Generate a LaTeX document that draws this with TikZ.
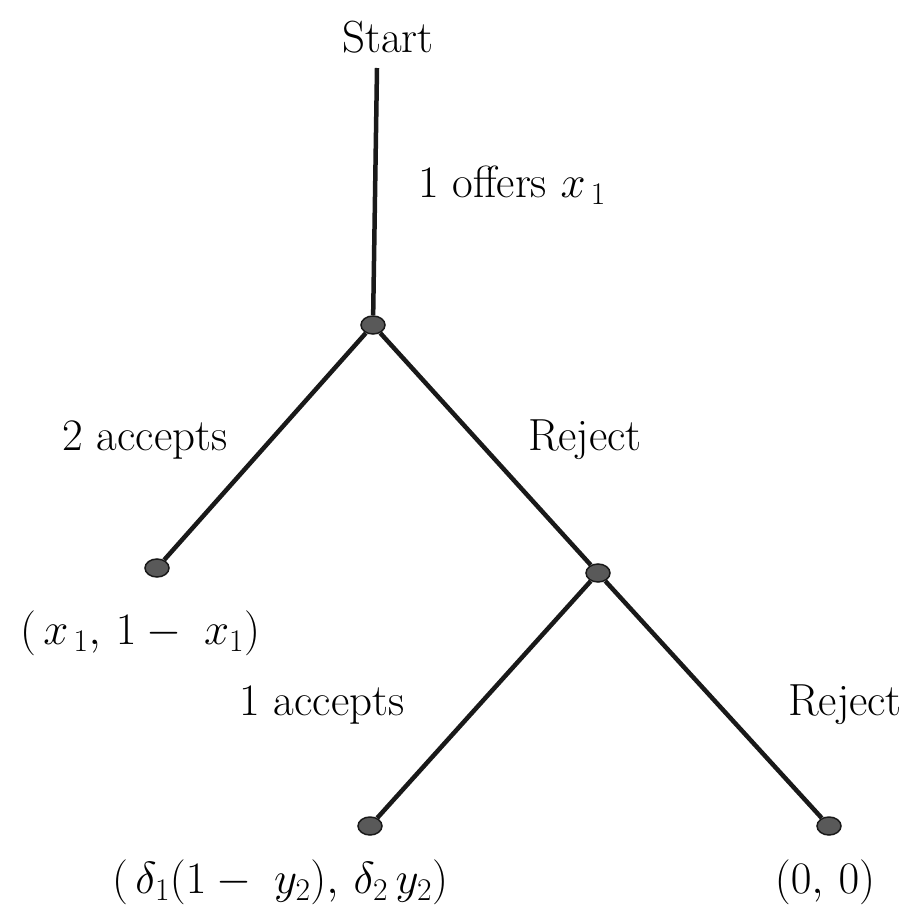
\RequirePackage{fix-cm}
\documentclass[tikz,border=0pt]{standalone}
\usetikzlibrary{shapes.geometric}
\begin{document}
\begin{tikzpicture}[x=1pt,y=-1pt,
  edge/.style={line width=4.5pt,black!90},
  dot/.style={ellipse,draw=black!90,line width=1.5pt,fill=black!65,inner sep=0pt,minimum width=24pt,minimum height=18pt},
  lab/.style={font=\fontsize{45}{54}\selectfont,inner sep=0pt}]
\useasboundingbox (0,0) rectangle (907,909);
\node[lab] (start) at (388,37) {Start};
\coordinate (top) at (377,68);
\node[dot] (n1) at (373,325) {};
\node[dot] (l1) at (157,568) {};
\node[dot] (n2) at (598,573) {};
\node[dot] (l2) at (370,826) {};
\node[dot] (l3) at (829,826) {};
\draw[edge] (top) -- (n1);
\draw[edge] (n1) -- (l1);
\draw[edge] (n1) -- (n2);
\draw[edge] (n2) -- (l2);
\draw[edge] (n2) -- (l3);
\node[lab,anchor=west] (offer) at (418,185) {1 offers $x_{\,1}$};
\node[lab] (acc2) at (145,440) {2 accepts};
\node[lab] (rej1) at (585,440) {Reject};
\node[lab] (pay1) at (140,633) {$(\,x_{\,1},\,1-\;x_1)$};
\node[lab] (acc1) at (322,705) {1 accepts};
\node[lab] (rej2) at (845,705) {Reject};
\node[lab] (pay2) at (280,882) {$(\,\delta_1(1-\;y_2),\,\delta_2\,y_2)$};
\node[lab] (pay3) at (825,882) {$(0,\,0)$};
\end{tikzpicture}
\end{document}
